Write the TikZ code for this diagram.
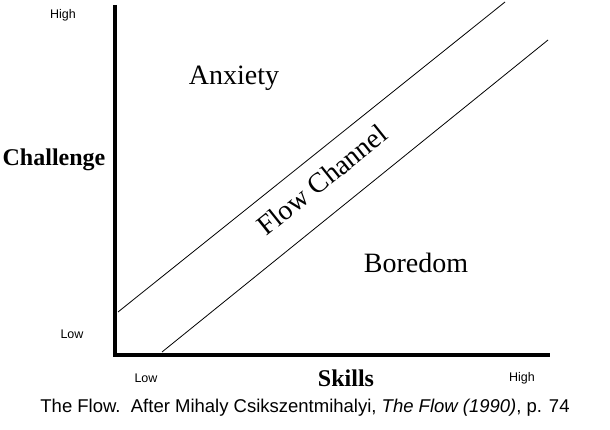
\documentclass[tikz,border=0pt]{standalone}
\usepackage{fontspec}
\setmainfont{Liberation Serif}
\newfontfamily\arialf{Liberation Sans}
\begin{document}
\begin{tikzpicture}[x=1pt,y=-1pt,
  small/.style={font=\arialf\fontsize{12.5}{14}\selectfont},
  big/.style={font=\fontsize{28}{32}\selectfont},
  heavy/.style={font=\bfseries\fontsize{24}{28}\selectfont},
  axis/.style={line width=3.5pt},
  chan/.style={line width=0.8pt}]
\useasboundingbox[fill=white] (0,0) rectangle (610,430);
\coordinate (top) at (115,5);
\coordinate (org) at (115,355);
\coordinate (right) at (550,355);
\draw[axis] (top) -- (org) -- (right);
\coordinate (u1) at (118,312); \coordinate (u2) at (505,2);
\coordinate (l1) at (162,352); \coordinate (l2) at (548,40);
\draw[chan] (u1) -- (u2);
\draw[chan] (l1) -- (l2);
\node[small] (hy) at (63,15) {High};
\node[small] (ly) at (72,334) {Low};
\node[heavy] (ch) at (54,160) {Challenge};
\node[small] (lx) at (146,378) {Low};
\node[heavy] (sk) at (346,378) {Skills};
\node[small] (hx) at (522,378) {High};
\node[big] (anx) at (234,78) {Anxiety};
\node[big] (bor) at (416,263) {Boredom};
\node[big,rotate=38.7] (flow) at (322,180) {Flow Channel};
\node[font=\arialf\fontsize{18.5}{20}\selectfont] (cap) at (305,408) {The Flow.\ \ After Mihaly Csikszentmihalyi, \textit{The Flow (1990)}, p. 74};
\end{tikzpicture}
\end{document}
